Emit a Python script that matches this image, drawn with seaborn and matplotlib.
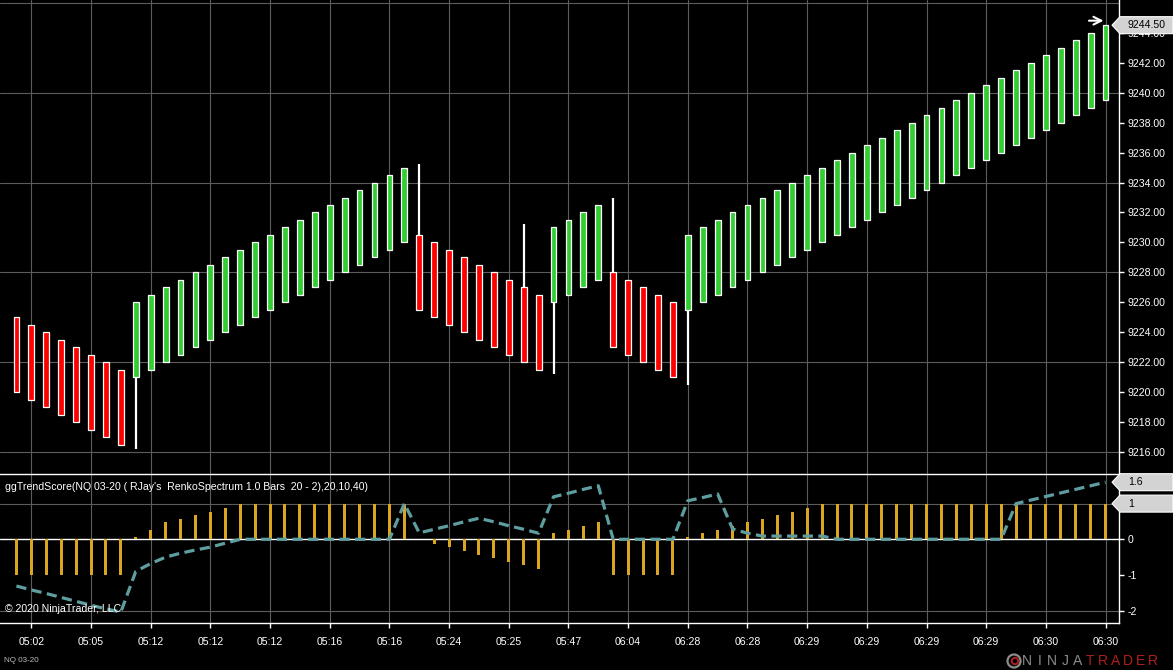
import numpy as np
import pandas as pd
import matplotlib
matplotlib.use("Agg")
import matplotlib.pyplot as plt
import seaborn as sns
from matplotlib.patches import Polygon, Circle
from matplotlib.transforms import IdentityTransform

# NQ 03-20 renko bricks (RJay's RenkoSpectrum 20 - 2)
brick_open = [
    9225.0, 9224.5, 9224.0, 9223.5, 9223.0, 9222.5, 9222.0, 9221.5,
    9221.0, 9221.5, 9222.0, 9222.5, 9223.0, 9223.5, 9224.0, 9224.5, 9225.0, 9225.5,
    9226.0, 9226.5, 9227.0, 9227.5, 9228.0, 9228.5, 9229.0, 9229.5, 9230.0,
    9230.5, 9230.0, 9229.5, 9229.0, 9228.5, 9228.0, 9227.5, 9227.0, 9226.5,
    9226.0, 9226.5, 9227.0, 9227.5,
    9228.0, 9227.5, 9227.0, 9226.5, 9226.0,
    9225.5, 9226.0, 9226.5, 9227.0, 9227.5, 9228.0, 9228.5, 9229.0, 9229.5, 9230.0,
    9230.5, 9231.0, 9231.5, 9232.0, 9232.5, 9233.0, 9233.5, 9234.0, 9234.5, 9235.0,
    9235.5, 9236.0, 9236.5, 9237.0, 9237.5, 9238.0, 9238.5, 9239.0, 9239.5,
]
brick_close = [
    9220.0, 9219.5, 9219.0, 9218.5, 9218.0, 9217.5, 9217.0, 9216.5,
    9226.0, 9226.5, 9227.0, 9227.5, 9228.0, 9228.5, 9229.0, 9229.5, 9230.0, 9230.5,
    9231.0, 9231.5, 9232.0, 9232.5, 9233.0, 9233.5, 9234.0, 9234.5, 9235.0,
    9225.5, 9225.0, 9224.5, 9224.0, 9223.5, 9223.0, 9222.5, 9222.0, 9221.5,
    9231.0, 9231.5, 9232.0, 9232.5,
    9223.0, 9222.5, 9222.0, 9221.5, 9221.0,
    9230.5, 9231.0, 9231.5, 9232.0, 9232.5, 9233.0, 9233.5, 9234.0, 9234.5, 9235.0,
    9235.5, 9236.0, 9236.5, 9237.0, 9237.5, 9238.0, 9238.5, 9239.0, 9239.5, 9240.0,
    9240.5, 9241.0, 9241.5, 9242.0, 9242.5, 9243.0, 9243.5, 9244.0, 9244.5,
]
# bars that have a wick, and where the wick ends
wick_idx = [8, 27, 34, 36, 40, 45]
wick_end = [9216.25, 9235.25, 9231.25, 9221.25, 9233.0, 9220.5]

# ggTrendScore histogram + dashed trend line
score_bars = [
    -1, -1, -1, -1, -1, -1, -1, -1,
    0.07, 0.26, 0.48, 0.57, 0.68, 0.76, 0.87,
    1, 1, 1, 1, 1, 1, 1, 1, 1, 1, 1, 1,
    0,
    -0.13, -0.21, -0.33, -0.44, -0.52, -0.63, -0.72, -0.83,
    0.18, 0.26, 0.37, 0.48,
    -1, -1, -1, -1, -1,
    0.07, 0.18, 0.26, 0.37, 0.48, 0.57, 0.68, 0.76, 0.87,
    1, 1, 1, 1, 1, 1, 1, 1, 1, 1, 1, 1, 1, 1, 1, 1, 1, 1, 1, 1,
]
score_line = [
    -1.31, -1.42, -1.52, -1.63, -1.74, -1.85, -1.95, -2.04,
    -0.9, -0.68, -0.5, -0.39, -0.3, -0.22, -0.11, 0,
    0, 0, 0, 0, 0, 0, 0, 0, 0, 0,
    1.0,
    0.18, 0.28, 0.38, 0.49, 0.59,
    0.49, 0.38, 0.28, 0.17,
    1.19, 1.29, 1.4, 1.5,
    0, 0, 0, 0, 0,
    1.08, 1.17, 1.27,
    0.29, 0.17, 0.09, 0.09, 0.09, 0.09, 0.09,
    0, 0, 0, 0, 0, 0, 0, 0, 0, 0, 0, 0,
    1.0, 1.1, 1.2, 1.3, 1.4, 1.5, 1.6,
]

time_labels = ["05:02", "05:05", "05:12", "05:12", "05:12", "05:16", "05:16",
               "05:24", "05:25", "05:47", "06:04", "06:28", "06:28", "06:29",
               "06:29", "06:29", "06:29", "06:30", "06:30"]
label_idx = list(range(1, 74, 4))
price_grid = [9216, 9222, 9228, 9234, 9240, 9246]
price_ticks = list(range(9216, 9246, 2))

df = pd.DataFrame({"open": brick_open, "close": brick_close,
                   "score": score_bars, "trend": score_line})
df["bar"] = np.arange(len(df))
df["up"] = df["close"] > df["open"]

W, H = 1173, 670
sns.set_style("dark", rc={"axes.facecolor": "black", "figure.facecolor": "black"})
plt.rcParams["font.family"] = ["Liberation Sans", "DejaVu Sans"]
fs = 7.6

fig = plt.figure(figsize=(W / 100, H / 100), dpi=100)
ax = fig.add_axes([0, 1 - 474 / H, 1119 / W, 474 / H])
ax2 = fig.add_axes([0, 1 - 623.3 / H, 1119 / W, (623.3 - 474) / H])

grid_c = "#5c5c5c"
xlim = (-1.1, 73.9)

# ---- price panel
for a in (ax, ax2):
    a.set_facecolor("black")
    for x in label_idx:
        a.axvline(x, color=grid_c, lw=0.8, zorder=0)
for p in price_grid:
    ax.axhline(p, color=grid_c, lw=0.8, zorder=0)

ax.vlines(wick_idx, [df["open"][i] for i in wick_idx], wick_end,
          color="white", lw=1.6, zorder=1)
ax.bar(df["bar"], df["close"] - df["open"], bottom=df["open"], width=0.39,
       color=np.where(df["up"], "#32cd32", "#ff0000"), edgecolor="white",
       linewidth=0.9, zorder=2)
ax.annotate("", xy=(73.05, 9244.8), xytext=(71.7, 9244.8),
            arrowprops=dict(arrowstyle="->", color="white", lw=1.5,
                            mutation_scale=14))

ax.set_xlim(*xlim)
ax.set_ylim(9214.55, 9246.18)
ax.yaxis.tick_right()
ax.set_yticks(price_ticks)
ax.set_yticklabels([f"{p:.2f}" for p in price_ticks])
ax.set_xticks([])
ax.tick_params(axis="y", colors="white", length=3.6, width=1, pad=2.5,
               labelsize=fs, right=True)
for s in ["left", "top", "bottom"]:
    ax.spines[s].set_visible(False)
ax.spines["right"].set_color("white")
ax.spines["right"].set_linewidth(1)
ax.set_xlabel("")
ax.set_ylabel("")

# ---- indicator panel
ax2.axhline(1, color=grid_c, lw=0.8, zorder=0)
ax2.axhline(-2, color=grid_c, lw=0.8, zorder=0)
ax2.axhline(0, color="white", lw=1, zorder=1)
sns.barplot(data=df, x="bar", y="score", native_scale=True, width=0.2,
            color="#daa520", saturation=1, errorbar=None, linewidth=0,
            ax=ax2, zorder=2)
sns.lineplot(data=df, x="bar", y="trend", color="#5f9ea0", linewidth=2.3,
             ax=ax2, zorder=3)
ax2.lines[-1].set_dashes((3.2, 1.7))

ax2.set_xlim(*xlim)
ax2.set_ylim(-2.355, 1.83)
ax2.yaxis.tick_right()
ax2.set_yticks([-2, -1, 0, 1])
ax2.set_yticklabels(["-2", "-1", "0", "1"])
ax2.set_xticks(label_idx)
ax2.set_xticklabels(time_labels)
ax2.tick_params(axis="y", colors="white", length=3.6, width=1, pad=2.5,
                labelsize=fs, right=True)
ax2.tick_params(axis="x", colors="white", length=3.6, width=1, pad=6,
                labelsize=fs, bottom=True)
ax2.spines["left"].set_visible(False)
for s in ["top", "right", "bottom"]:
    ax2.spines[s].set_color("white")
    ax2.spines[s].set_linewidth(1)
ax2.set_xlabel("")
ax2.set_ylabel("")

fig.text(5 / W, 1 - 486.5 / H,
         "ggTrendScore(NQ 03-20 ( RJay's  RenkoSpectrum 1.0 Bars  20 - 2),20,10,40)",
         color="white", fontsize=fs, va="center", ha="left")
fig.text(5 / W, 1 - 609 / H, "\u00a9 2020 NinjaTrader, LLC", color="white",
         fontsize=fs, va="center", ha="left")
fig.text(4 / W, 1 - 661 / H, "NQ 03-20", color="#bdbdbd", fontsize=5.8,
         va="center", ha="left")


# current value markers on the right axis
def value_box(a, value, text):
    fig.canvas.draw()
    y = a.transData.transform((0, value))[1]
    pts = [(1112, y), (1120, y + 8.5), (1173, y + 8.5), (1173, y - 8.5), (1120, y - 8.5)]
    fig.add_artist(Polygon(pts, closed=True, transform=IdentityTransform(),
                           facecolor="#d3d3d3", edgecolor="white", lw=0.8, zorder=5))
    fig.text(1128 / W, y / H, text, color="black", fontsize=fs, va="center",
             ha="left", zorder=6)


value_box(ax, brick_close[-1], f"{brick_close[-1]:.2f}")
value_box(ax2, score_line[-1], f"{score_line[-1]:g}")
value_box(ax2, score_bars[-1], f"{score_bars[-1]:g}")

# NinjaTrader logo, bottom right
fig.add_artist(Circle((1014, H - 661), 6.5, transform=IdentityTransform(),
                      facecolor="none", edgecolor="#8c8c8c", lw=1.6))
fig.add_artist(Circle((1015, H - 661), 3.2, transform=IdentityTransform(),
                      facecolor="none", edgecolor="#b01e1e", lw=1.4))
for k, ch in enumerate("NINJATRADER"):
    fig.text((1027 + 12.6 * k) / W, 1 - 661 / H, ch,
             color="#8c8c8c" if k < 5 else "#b01e1e", fontsize=10,
             va="center", ha="center")

fig.savefig("out.png", dpi=100, facecolor="black")
